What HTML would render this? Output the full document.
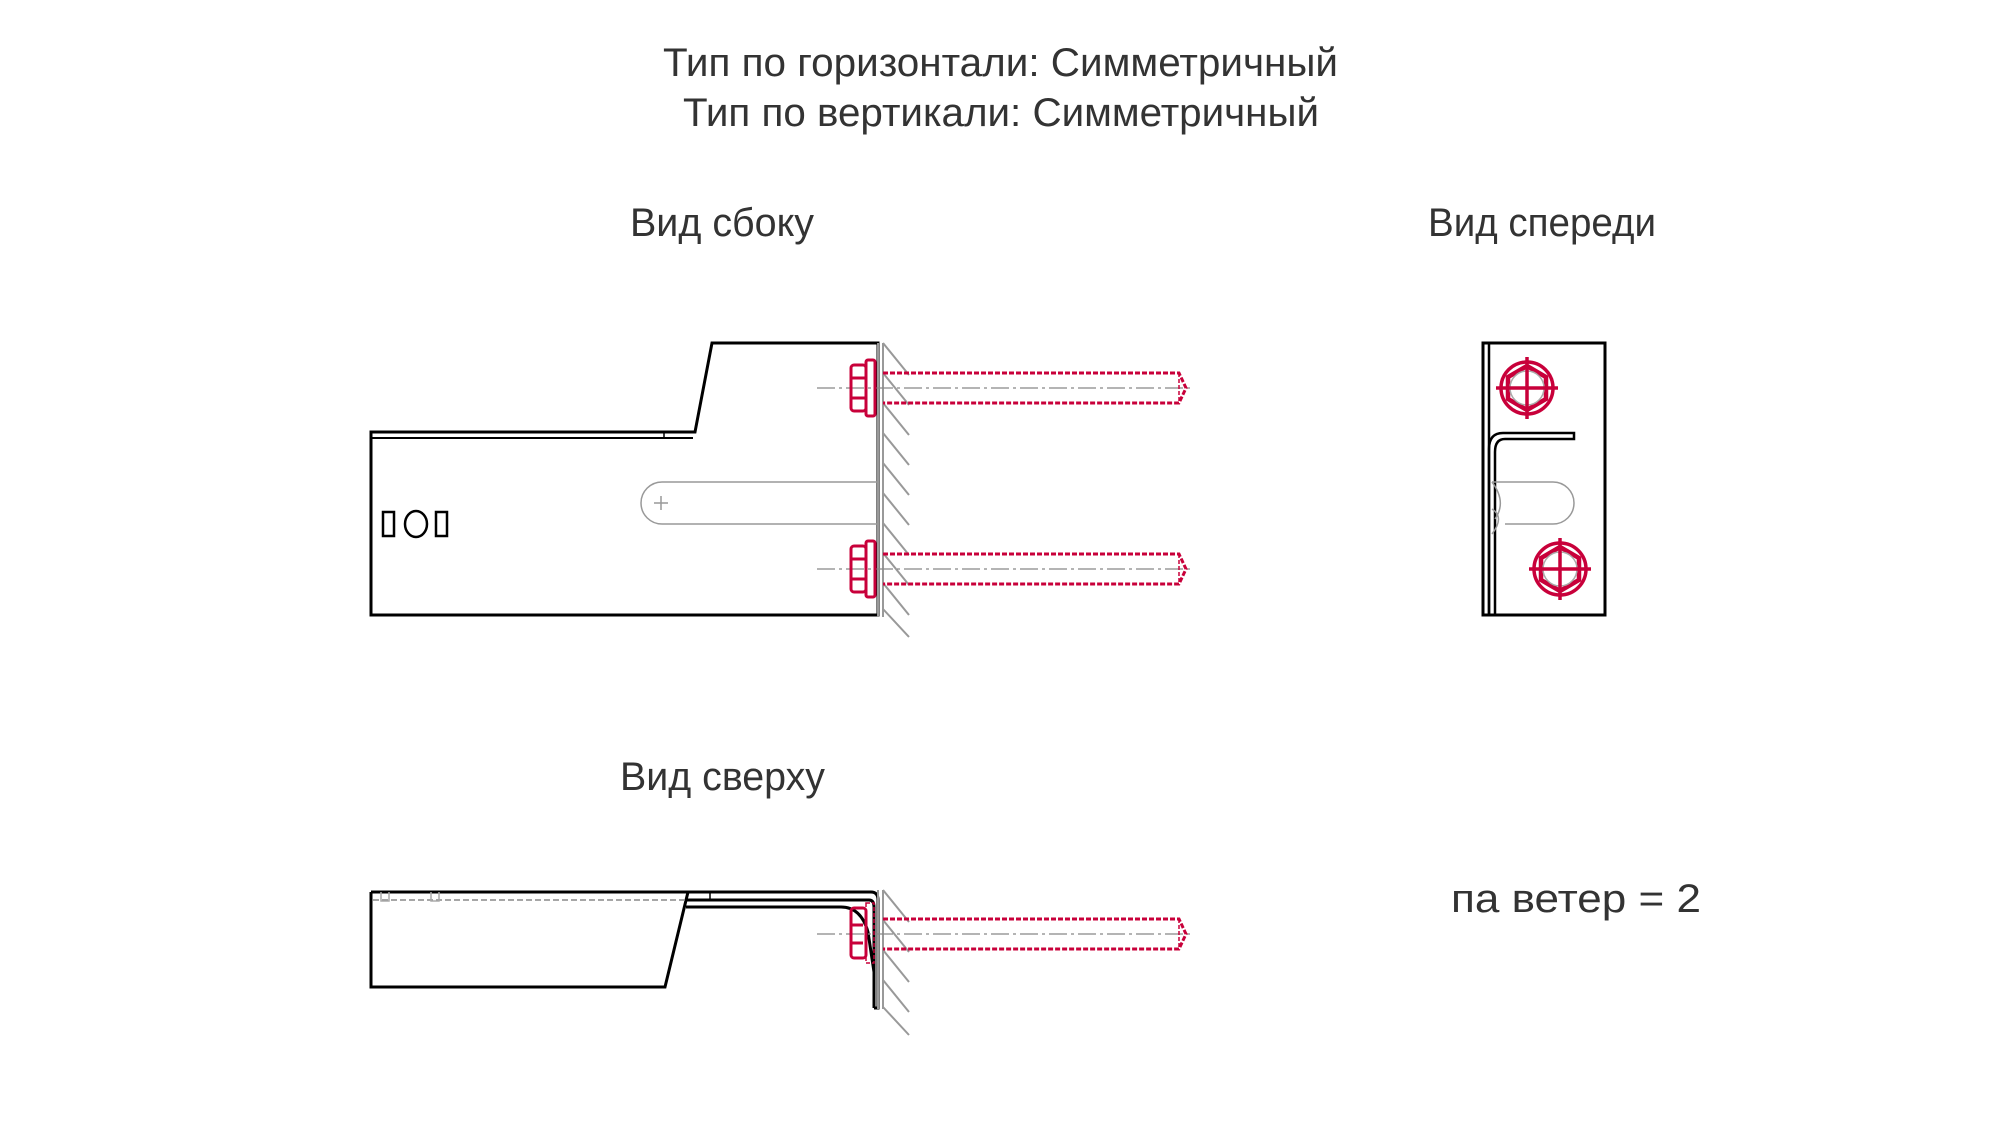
<!DOCTYPE html>
<html><head><meta charset="utf-8"><style>html,body{margin:0;padding:0;background:#fff}svg{display:block}</style></head>
<body>
<svg width="2000" height="1125" viewBox="0 0 2000 1125" xmlns="http://www.w3.org/2000/svg">
<g font-family="'Liberation Sans', sans-serif" font-size="40" fill="#333">
<text x="663" y="76" textLength="675" lengthAdjust="spacingAndGlyphs">Тип по горизонтали: Симметричный</text>
<text x="683" y="126" textLength="636" lengthAdjust="spacingAndGlyphs">Тип по вертикали: Симметричный</text>
<text x="630" y="236" textLength="184" lengthAdjust="spacingAndGlyphs">Вид сбоку</text>
<text x="1428" y="236" textLength="228" lengthAdjust="spacingAndGlyphs">Вид спереди</text>
<text x="620" y="790" textLength="205" lengthAdjust="spacingAndGlyphs">Вид сверху</text>
<text x="1451" y="912" textLength="250" lengthAdjust="spacingAndGlyphs">па ветер = 2</text>
</g>
<g transform="translate(-2 -3)">
<!-- Side view -->
<g fill="none" stroke="#000" stroke-width="3">
<path d="M373 435 H697 L714 346 H880 V618 H373 Z"/>
<path d="M373 441 H695" stroke-width="2"/>
<path d="M666 435 V441" stroke-width="1.5"/>
</g>
<g fill="none" stroke="#999" stroke-width="1.5">
<path d="M880 485 H664 A21 21 0 0 0 664 527 H880"/>
<path d="M656 506 h14 M663 499 v14"/>
</g>
<g fill="none" stroke="#000" stroke-width="2.5">
<rect x="385" y="515" width="11" height="24"/>
<ellipse cx="418" cy="527" rx="11" ry="13"/>
<rect x="438" y="515" width="11" height="24"/>
</g>
<g transform="translate(-3 0)">
<g stroke="#999" stroke-width="2" fill="none">
<path d="M883 346 V620 M888 346 V620"/>
<path d="M888 346 l26 32 M888 376 l26 32 M888 406 l26 32 M888 436 l26 32 M888 466 l26 32 M888 496 l26 32 M888 526 l26 32 M888 556 l26 32 M888 586 l26 32 M888 612 l26 28"/>
</g>
<g id="bolt">
<path d="M822 391 H1196" stroke="#888" stroke-width="1.2" stroke-dasharray="18 4 3 4" fill="none"/>
<g fill="none" stroke="#c8003a" stroke-width="3">
<path d="M888 376 H1184 L1191 391 L1184 406 H888" stroke-dasharray="5 2"/>
<path d="M1184 376 V406" stroke-width="1.5" stroke-dasharray="4 2"/>
<rect x="856" y="368" width="15" height="46" rx="3"/>
<path d="M856 381 H871 M856 401 H871"/>
<rect x="871" y="363" width="9" height="56" rx="2"/>
</g>
</g>
<use href="#bolt" transform="translate(0 181)"/>
</g>

<!-- Top view -->
<g fill="none" stroke="#000" stroke-width="3">
<path d="M373 895 H873 Q880 895 880 903 V1011 H876"/>
<path d="M373 895 V990 H667 L690 895"/>
<path d="M688 903 H871 Q876 903 876 910 V1011"/>
<path d="M688 910 H843 Q863 910 870 935 L876 975"/>
<path d="M712 895 V903" stroke-width="1.5"/>
</g>
<path d="M375 903 H688" stroke="#888" stroke-width="1.5" stroke-dasharray="6 3" fill="none"/>
<g fill="none" stroke="#aaa" stroke-width="1.5">
<path d="M383 895 v9 h8 v-9 M433 895 v9 h8 v-9"/>
</g>
<g transform="translate(-3 0)">
<g stroke="#999" stroke-width="2" fill="none">
<path d="M883 893 V1012 M888 893 V1012"/>
<path d="M888 893 l26 32 M888 923 l26 32 M888 953 l26 32 M888 983 l26 32 M888 1010 l26 28"/>
</g>
<path d="M822 937 H1196" stroke="#888" stroke-width="1.2" stroke-dasharray="18 4 3 4" fill="none"/>
<g fill="none" stroke="#c8003a" stroke-width="3">
<path d="M888 922 H1184 L1191 937 L1184 952 H888" stroke-dasharray="5 2"/>
<path d="M1184 922 V952" stroke-width="1.5" stroke-dasharray="4 2"/>
<rect x="856" y="911" width="15" height="50" rx="3"/>
<path d="M856 928 H868 M856 946 H868"/>
<rect x="871" y="906" width="8" height="60" stroke-width="1.5" stroke-dasharray="4 2"/>
</g>
</g>

<!-- Front view -->
<g transform="translate(-3 0)">
<g fill="none" stroke="#000" stroke-width="3">
<rect x="1488" y="346" width="122" height="272"/>
<path d="M1494 346 V618" stroke-width="2.5"/>
<path d="M1494 618 V452 Q1494 436 1508 436 H1579 V442 H1510 Q1500 442 1500 455 V618" stroke-width="2.5"/>
</g>
<g fill="none" stroke="#999" stroke-width="1.5">
<path d="M1497 485 H1558 A21 21 0 0 1 1558 527 H1510"/>
<path d="M1497 485 Q1512 505 1500 522 M1497 512 Q1510 520 1497 537"/>
</g>
<g id="fb" fill="none" stroke="#c8003a" stroke-width="3.5">
<circle cx="1532" cy="391" r="26"/>
<polygon points="1532,369 1551,380 1551,402 1532,413 1513,402 1513,380" stroke-width="4.5"/>
<circle cx="1532" cy="391" r="17" stroke="#aaa" stroke-width="1.5"/>
<path d="M1501 391 H1563 M1532 360 V422"/>
</g>
<use href="#fb" transform="translate(33 181)"/>
</g>
</g>
</svg>
</body></html>
